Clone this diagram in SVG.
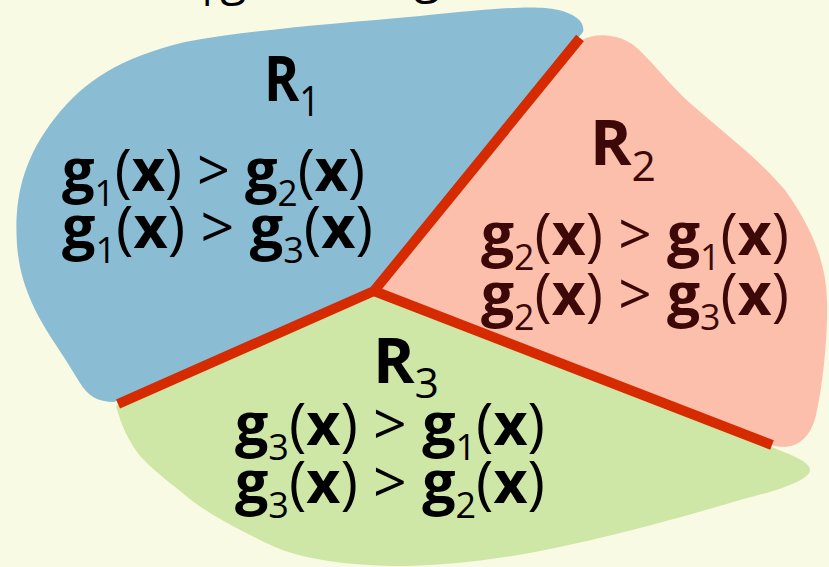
<svg xmlns="http://www.w3.org/2000/svg" width="829" height="567" viewBox="0 0 829 567">
<defs>
<style>
.eq{font-family:"Open Sans","Liberation Sans",sans-serif;font-size:59px;}
.b{font-weight:bold;}
.s{font-size:36px;font-weight:normal;}
.lbl{font-family:"Open Sans","Liberation Sans",sans-serif;font-size:62px;font-weight:bold;}
.ls{font-size:42px;font-weight:normal;}
.dark{fill:#000000;}
.maroon{fill:#3d0808;}
.bnd{stroke:#d62a00;stroke-width:10;fill:none;stroke-linecap:butt;stroke-linejoin:miter;}
.frag{font-family:"Open Sans","Liberation Sans",sans-serif;font-size:48px;fill:#000;}
</style>
</defs>
<rect width="829" height="567" fill="#f8fae3"/>
<g id="title-fragment">
<text class="frag" x="194" y="-5">|g</text>
<text class="frag" x="414" y="-7">g</text>
</g>
<g id="region-R1">
<path d="M 114,402 C 98,402 88,396 80,383 C 72,370 66,360 56,345 C 36,315 20,285 17,245 C 14,200 22,160 55,118 C 85,80 120,58 185,42 C 250,30 330,24 420,16 C 480,10 520,6 545,8 C 570,10 586,20 583,32 L 374,291 Z" fill="#8abcd3"/>
</g>
<g id="region-R2">
<path d="M 582,40 C 595,33 615,33 632,44 C 650,58 665,80 690,103 C 720,130 755,155 785,190 C 810,225 826,260 827,300 C 828,340 822,390 816,415 C 810,440 795,450 775,446 L 374,291 Z" fill="#fbbfac"/>
<path d="M 538,84 L 544,80 L 506,128 L 500,133 Z" fill="#b29bb0"/>
</g>
<g id="region-R3">
<path d="M 116,406 L 374,291 L 774,448 C 792,455 810,462 810,470 C 810,480 780,490 740,500 C 680,518 560,552 476,561 C 430,566 400,567 370,565 C 320,562 290,555 264,542 C 230,525 205,512 185,495 C 160,475 145,463 137,452 C 125,435 120,420 116,406 Z" fill="#cfe7a6"/>
<path d="M 124,398 C 150,384 180,372 212,360 L 200,372 Z" fill="#72b4a8"/>
</g>
<g id="boundaries">
<polyline class="bnd" points="580,38 374,291 118,404"/>
<line class="bnd" x1="374" y1="291" x2="772" y2="445"/>
</g>
<g id="label-R1">
<text class="lbl dark" x="264" y="101" textLength="56" lengthAdjust="spacingAndGlyphs">R<tspan class="ls" dy="15">1</tspan></text>
<text class="eq dark" x="62" y="191" textLength="303" lengthAdjust="spacingAndGlyphs"><tspan class="b">g</tspan><tspan class="s" dy="15">1</tspan><tspan dy="-15">(</tspan><tspan class="b">x</tspan>) &gt; <tspan class="b">g</tspan><tspan class="s" dy="15">2</tspan><tspan dy="-15">(</tspan><tspan class="b">x</tspan>)</text>
<text class="eq dark" x="62" y="248" textLength="311" lengthAdjust="spacingAndGlyphs"><tspan class="b">g</tspan><tspan class="s" dy="15">1</tspan><tspan dy="-15">(</tspan><tspan class="b">x</tspan>) &gt; <tspan class="b">g</tspan><tspan class="s" dy="15">3</tspan><tspan dy="-15">(</tspan><tspan class="b">x</tspan>)</text>
</g>
<g id="label-R2">
<text class="lbl maroon" x="590" y="165" textLength="66" lengthAdjust="spacingAndGlyphs">R<tspan class="ls" dy="16">2</tspan></text>
<text class="eq maroon" x="481" y="255" textLength="308" lengthAdjust="spacingAndGlyphs"><tspan class="b">g</tspan><tspan class="s" dy="15">2</tspan><tspan dy="-15">(</tspan><tspan class="b">x</tspan>) &gt; <tspan class="b">g</tspan><tspan class="s" dy="15">1</tspan><tspan dy="-15">(</tspan><tspan class="b">x</tspan>)</text>
<text class="eq maroon" x="481" y="315" textLength="308" lengthAdjust="spacingAndGlyphs"><tspan class="b">g</tspan><tspan class="s" dy="15">2</tspan><tspan dy="-15">(</tspan><tspan class="b">x</tspan>) &gt; <tspan class="b">g</tspan><tspan class="s" dy="15">3</tspan><tspan dy="-15">(</tspan><tspan class="b">x</tspan>)</text>
</g>
<g id="label-R3">
<text class="lbl dark" x="373" y="383" textLength="66" lengthAdjust="spacingAndGlyphs">R<tspan class="ls" dy="15">3</tspan></text>
<text class="eq dark" x="235" y="445" textLength="310" lengthAdjust="spacingAndGlyphs"><tspan class="b">g</tspan><tspan class="s" dy="15">3</tspan><tspan dy="-15">(</tspan><tspan class="b">x</tspan>) &gt; <tspan class="b">g</tspan><tspan class="s" dy="15">1</tspan><tspan dy="-15">(</tspan><tspan class="b">x</tspan>)</text>
<text class="eq dark" x="235" y="503" textLength="310" lengthAdjust="spacingAndGlyphs"><tspan class="b">g</tspan><tspan class="s" dy="15">3</tspan><tspan dy="-15">(</tspan><tspan class="b">x</tspan>) &gt; <tspan class="b">g</tspan><tspan class="s" dy="15">2</tspan><tspan dy="-15">(</tspan><tspan class="b">x</tspan>)</text>
</g>
</svg>
